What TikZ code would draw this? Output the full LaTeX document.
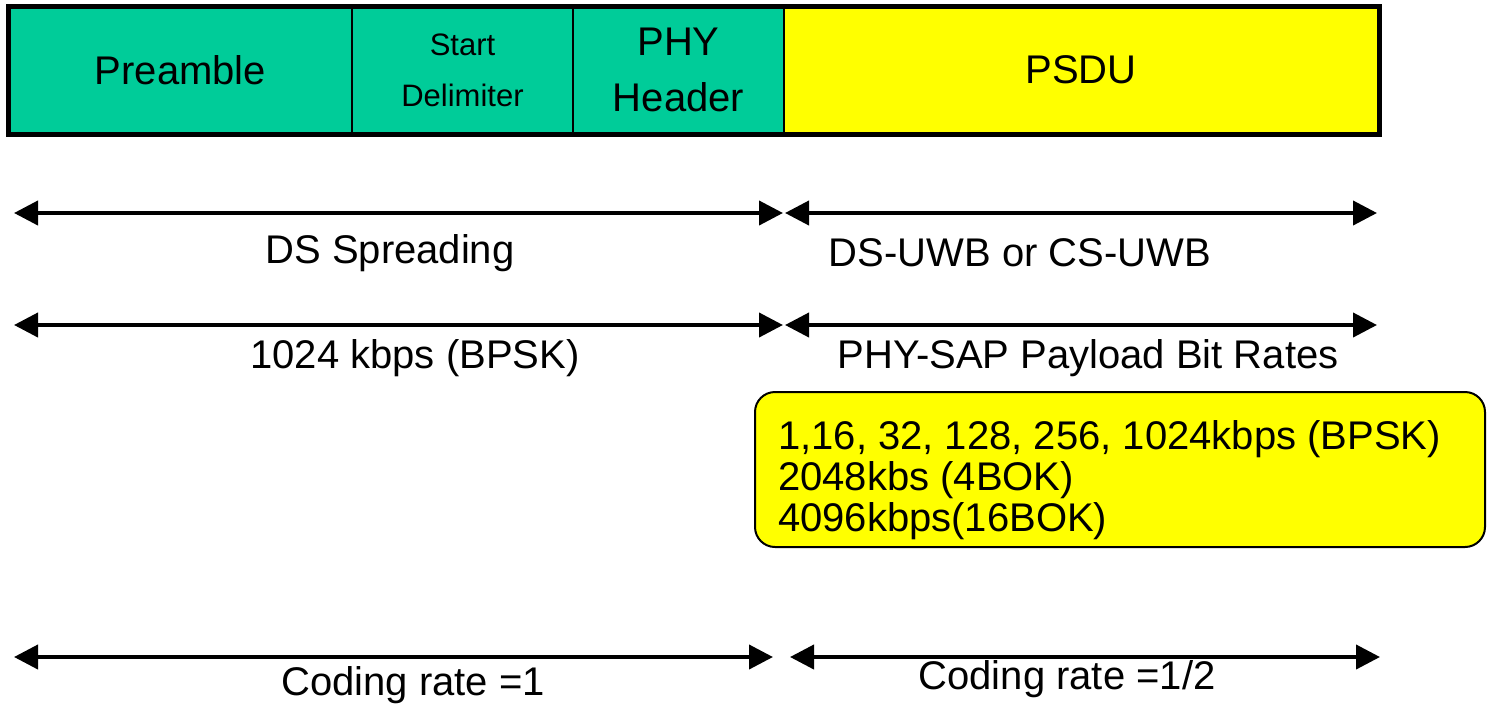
\documentclass[tikz,border=0pt]{standalone}
\usepackage{fontspec}
\setmainfont{Liberation Sans}
\usetikzlibrary{arrows.meta,positioning}
\definecolor{fieldgreen}{RGB}{0,204,153}
\definecolor{fieldyellow}{RGB}{255,255,0}
\tikzset{
  field/.style = {rectangle, draw, line width=2pt, minimum height=126pt, inner sep=0pt,
    align=center, font=\fontsize{40}{56}\selectfont},
  span/.style = {line width=4pt, {Triangle[length=24pt,width=24pt]}-{Triangle[length=24pt,width=24pt]}},
  lbl/.style = {inner sep=0pt, font=\fontsize{40}{42}\selectfont},
  rates/.style = {rectangle, draw, line width=2pt, fill=fieldyellow, rounded corners=20pt,
    minimum width=730pt, minimum height=155pt, align=left, inner sep=0pt,
    font=\fontsize{40}{41}\selectfont}
}
\begin{document}
\begin{tikzpicture}[x=1pt, y=-1pt]
\useasboundingbox (0,0) rectangle (1488,705);

% frame fields
\node[field, fill=fieldgreen, minimum width=343pt] (pre) at (180.5,70) {Preamble};
\node[field, fill=fieldgreen, minimum width=221pt, font=\fontsize{31}{51}\selectfont] (sd) at (462.5,70) {Start\\Delimiter};
\node[field, fill=fieldgreen, minimum width=211pt] (phy) at (678.5,70) {PHY\\Header};
\node[field, fill=fieldyellow, minimum width=594pt] (psdu) at (1081,70) {PSDU};
\draw[line width=5pt] (pre.north west) rectangle (psdu.south east);

% spans
\coordinate (a1l) at (14,213);  \coordinate (a1m) at (783,213);
\coordinate (b1l) at (785,213); \coordinate (b1r) at (1377,213);
\coordinate (a2l) at (14,325);  \coordinate (a2m) at (783,325);
\coordinate (b2l) at (785,325); \coordinate (b2r) at (1377,325);
\coordinate (a3l) at (14,657);  \coordinate (a3m) at (773,657);
\coordinate (b3l) at (790,657); \coordinate (b3r) at (1380,657);

\draw[span] (a1l) -- (a1m);
\draw[span] (b1l) -- (b1r);
\draw[span] (a2l) -- (a2m);
\draw[span] (b2l) -- (b2r);
\draw[span] (a3l) -- (a3m);
\draw[span] (b3l) -- (b3r);

\node[lbl] (spread) at (390,253) {DS Spreading};
\node[lbl] (uwb) at (1020,253) {DS-UWB or CS-UWB};
\node[lbl] (hdrrate) at (415,358) {1024 kbps (BPSK)};
\node[lbl] (sap) at (1088,358) {PHY-SAP Payload Bit Rates};

\node[rates] (ratebox) at (1120,469.5) {};
\node[lbl, anchor=west, align=left, font=\fontsize{40}{41}\selectfont] (ratelist) at (778,480)
  {1,16, 32, 128, 256, 1024kbps (BPSK)\\2048kbs (4BOK)\\4096kbps(16BOK)};

\node[lbl] (code1) at (413,685) {Coding rate =1};
\node[lbl] (code2) at (1067,679) {Coding rate =1/2};

\end{tikzpicture}
\end{document}
